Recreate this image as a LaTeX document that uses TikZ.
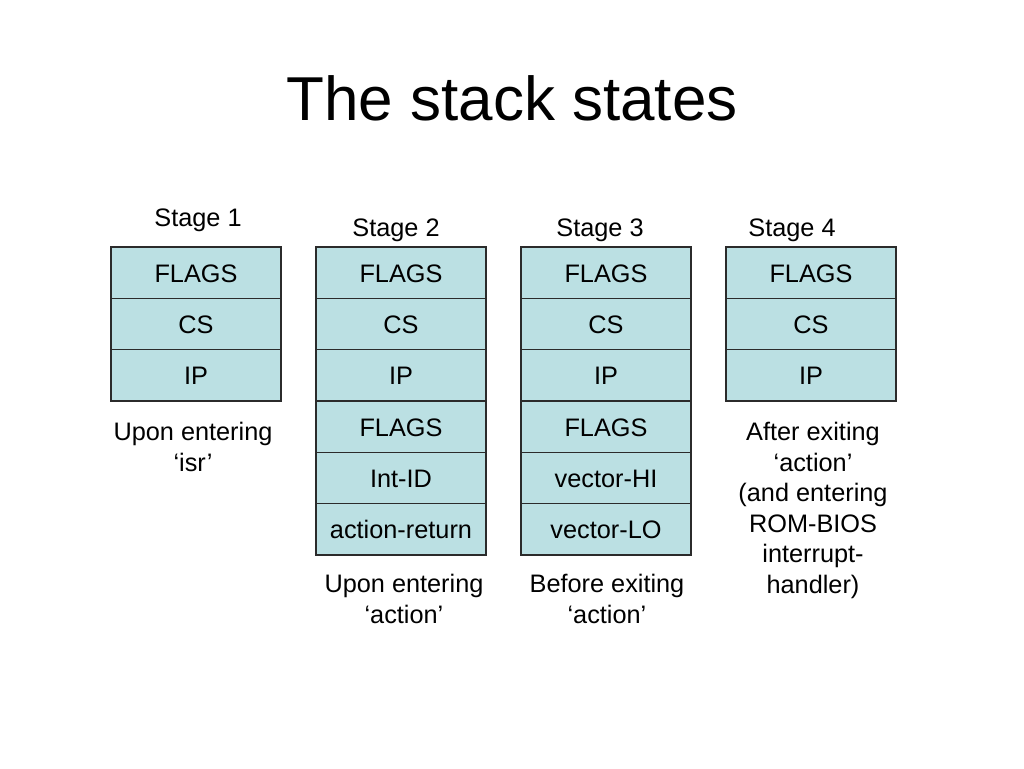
\documentclass[tikz,border=0pt]{standalone}
\usepackage{fontspec}
\setmainfont{Liberation Sans}
\usetikzlibrary{positioning}
\definecolor{cellblue}{HTML}{BBE0E3}
\definecolor{cellline}{HTML}{2B2B2B}
\tikzset{
  cell/.style={draw=cellline, line width=1.2pt, fill=cellblue, outer sep=0pt,
    minimum width=170pt, minimum height=51.33pt, inner sep=0pt,
    text height=21pt, text depth=2pt,
    font=\fontsize{25.3}{30}\selectfont, anchor=north},
  stagelabel/.style={font=\fontsize{25.3}{30}\selectfont},
  note/.style={align=center, anchor=north, font=\fontsize{25.3}{30.5}\selectfont}
}
\begin{document}
\begin{tikzpicture}[x=1pt,y=-1pt]
            \useasboundingbox (0,0) rectangle (1024,768);
            % Titel
            \node [font=\fontsize{62}{70}\selectfont] (title) at (512,98) {The stack states};
            % Stufen
            \node [stagelabel] (stage1) at (198,220) {Stage 1};
            \node [stagelabel] (stage2) at (396,230) {Stage 2};
            \node [stagelabel] (stage3) at (600,230) {Stage 3};
            \node [stagelabel] (stage4) at (792,230) {Stage 4};
            % Stack 1
            \node [cell] (s1a) at (196,247) {FLAGS};
            \node [cell, below=0pt of s1a] (s1b) {CS};
            \node [cell, below=0pt of s1b] (s1c) {IP};
            % Stack 2
            \node [cell] (s2a) at (401,247) {FLAGS};
            \node [cell, below=0pt of s2a] (s2b) {CS};
            \node [cell, below=0pt of s2b] (s2c) {IP};
            \node [cell, below=0pt of s2c] (s2d) {FLAGS};
            \node [cell, below=0pt of s2d] (s2e) {Int-ID};
            \node [cell, below=0pt of s2e] (s2f) {action-return};
            % Stack 3
            \node [cell] (s3a) at (606,247) {FLAGS};
            \node [cell, below=0pt of s3a] (s3b) {CS};
            \node [cell, below=0pt of s3b] (s3c) {IP};
            \node [cell, below=0pt of s3c] (s3d) {FLAGS};
            \node [cell, below=0pt of s3d] (s3e) {vector-HI};
            \node [cell, below=0pt of s3e] (s3f) {vector-LO};
            % Stack 4
            \node [cell] (s4a) at (811,247) {FLAGS};
            \node [cell, below=0pt of s4a] (s4b) {CS};
            \node [cell, below=0pt of s4b] (s4c) {IP};
            % Beschriftungen
            \node [note] (n1) at (193,419) {Upon entering\\‘isr’};
            \node [note] (n2) at (404,571) {Upon entering\\‘action’};
            \node [note] (n3) at (607,571) {Before exiting\\‘action’};
            \node [note] (n4) at (813,419) {After exiting\\‘action’\\(and entering\\ROM-BIOS\\interrupt-\\handler)};
\end{tikzpicture}
\end{document}
